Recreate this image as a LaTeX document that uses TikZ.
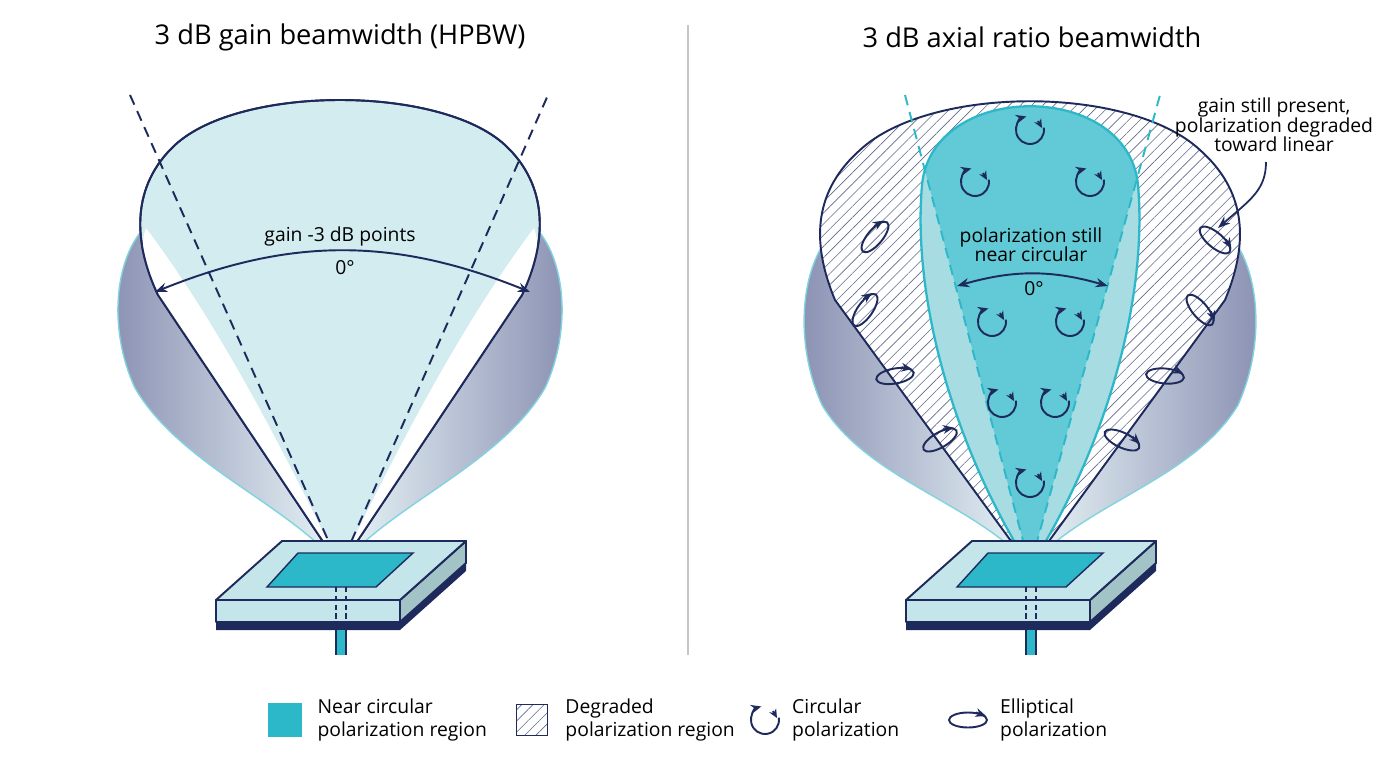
\documentclass[tikz,border=0pt]{standalone}
\usepackage{fontspec}
\setmainfont{Open Sans}
\usetikzlibrary{arrows.meta,patterns.meta,positioning}
\definecolor{navy}{HTML}{1E2A5C}
\definecolor{teal}{HTML}{2DB8C9}
\definecolor{paleblue}{HTML}{D2ECF0}
\definecolor{sideteal}{HTML}{A6DCE2}
\definecolor{ribbon}{HTML}{8A90B2}
\definecolor{slab}{HTML}{C4E5EA}
\definecolor{slabside}{HTML}{A3C4C6}
\tikzset{
  outline/.style={draw=navy,line width=1.1pt,line join=round},
  hatch/.style={pattern={Lines[angle=45,distance=4.5pt,line width=0.35pt]},pattern color=navy!70},
  beam/.style={dashed,line width=1.1pt,dash pattern=on 6pt off 4pt},
  span/.style={{Stealth[length=7pt]}-{Stealth[length=7pt]},navy,line width=1.1pt},
  lbl/.style={font=\fontsize{11}{13}\selectfont,text=black,align=center},
  title/.style={font=\fontsize{15.5}{18}\selectfont},
  legtext/.style={font=\fontsize{11}{13.5}\selectfont,align=left,anchor=west},
  circ/.pic={\draw[navy,line width=1.1pt,-{Stealth[length=6pt,width=5pt]}] (-10:14) arc (-10:255:14);
             \draw[navy,line width=1.1pt,-{Stealth[length=5pt,width=4.5pt]}] (8,-9) -- (12,-2);},
  ellip/.pic={\draw[navy,line width=1.1pt] (0,0) ellipse [x radius=19,y radius=7.5];
              \draw[navy,line width=1.1pt,-{Stealth[length=6pt,width=5pt]}] (8,-7.5) -- (18,-4);},
}
% one antenna patch, given its apex (feed point)
\newcommand\patch[1]{%
  \begin{scope}[shift={#1}]
    \fill[navy] (-124,55) -- (60,55) -- (126,-4) -- (126,4) -- (60,63) -- (-124,63) -- cycle;
    \draw[outline,fill=slabside] (60,33) -- (126,-26) -- (126,-4) -- (60,55) -- cycle;
    \draw[outline,fill=slab] (-124,33) rectangle (60,55);
    \draw[outline,fill=slab] (-58,-26) -- (126,-26) -- (60,33) -- (-124,33) -- cycle;
    \draw[navy,line width=0.8pt,fill=teal] (-42,-14) -- (73,-14) -- (36,20) -- (-73,20) -- cycle;
    \draw[navy,densely dashed,line width=0.8pt] (-4,20) -- (-4,55) (6,20) -- (6,55);
    \fill[teal] (-4,63) rectangle (6,88);
    \draw[navy,line width=0.6pt] (-4,63) -- (-4,88) (6,63) -- (6,88);
  \end{scope}}
\begin{document}
\begin{tikzpicture}[x=0.02cm,y=-0.02cm]
\useasboundingbox (0,0) rectangle (1376,768);
% titles and divider
\node[title] (tL) at (340,37) {3 dB gain beamwidth (HPBW)};
\node[title] (tR) at (1032,37) {3 dB axial ratio beamwidth};
\draw[gray!45,line width=0.8pt] (688,25) -- (688,655);

% ---- left: gain lobe
\coordinate (aL) at (340,567);
\shade[left color=ribbon,right color=paleblue!50] (146,226) .. controls (114,258) and (108,330) .. (135,388) .. controls (180,465) and (290,505) .. (aL) -- (158,295) -- cycle;
\shade[right color=ribbon,left color=paleblue!50] (534,226) .. controls (566,258) and (572,330) .. (545,388) .. controls (500,465) and (390,505) .. (aL) -- (522,295) -- cycle;
\draw[teal!60,line width=0.8pt] (146,226) .. controls (114,258) and (108,330) .. (135,388) .. controls (180,465) and (290,505) .. (aL)
      (534,226) .. controls (566,258) and (572,330) .. (545,388) .. controls (500,465) and (390,505) .. (aL);
\path[outline,fill=paleblue] (aL) -- (158,295) .. controls (132,240) and (132,185) .. (175,145) .. controls (240,85) and (440,85) .. (505,145) .. controls (548,185) and (548,240) .. (522,295) -- cycle;
\fill[white] (aL) -- (158,295) .. controls (142,260) and (140,245) .. (146,228) .. controls (200,300) and (260,400) .. (aL);
\fill[white] (aL) -- (522,295) .. controls (538,260) and (540,245) .. (534,228) .. controls (480,300) and (420,400) .. (aL);
\draw[outline] (aL) -- (158,295) .. controls (132,240) and (132,185) .. (175,145) .. controls (240,85) and (440,85) .. (505,145) .. controls (548,185) and (548,240) .. (522,295) -- cycle;
\coordinate (dL1) at (130,95);
\coordinate (dL2) at (548,95);
\draw[beam,navy] (dL1) -- (aL) -- (dL2);
\coordinate (pL1) at (155,292);
\coordinate (pL2) at (530,292);
\draw[span] (pL1) to[bend left=22] (pL2);
\node[lbl] (gainlbl) at (340,236) {gain -3 dB points};
\node[lbl] (zeroL) at (345,268) {0°};
\patch{(340,567)}

% ---- right: axial ratio lobe
\coordinate (aR) at (1030,567);
\shade[left color=ribbon,right color=paleblue!50] (826,240) .. controls (798,280) and (797,350) .. (822,405) .. controls (867,480) and (980,505) .. (aR) -- (835,300) -- cycle;
\shade[right color=ribbon,left color=paleblue!50] (1234,240) .. controls (1262,280) and (1263,350) .. (1238,405) .. controls (1193,480) and (1080,505) .. (aR) -- (1225,300) -- cycle;
\draw[teal!60,line width=0.8pt] (826,240) .. controls (798,280) and (797,350) .. (822,405) .. controls (867,480) and (980,505) .. (aR)
      (1234,240) .. controls (1262,280) and (1263,350) .. (1238,405) .. controls (1193,480) and (1080,505) .. (aR);
\path[fill=white] (aR) -- (835,300) .. controls (810,240) and (815,190) .. (860,150) .. controls (930,85) and (1130,85) .. (1200,150) .. controls (1245,190) and (1250,240) .. (1225,300) -- cycle;
\path[hatch] (aR) -- (835,300) .. controls (810,240) and (815,190) .. (860,150) .. controls (930,85) and (1130,85) .. (1200,150) .. controls (1245,190) and (1250,240) .. (1225,300) -- cycle;
\draw[outline] (aR) -- (835,300) .. controls (810,240) and (815,190) .. (860,150) .. controls (930,85) and (1130,85) .. (1200,150) .. controls (1245,190) and (1250,240) .. (1225,300) -- cycle;
\fill[sideteal] (aR) .. controls (955,450) and (912,300) .. (922,185) .. controls (932,80) and (1128,80) .. (1138,185) .. controls (1148,300) and (1105,450) .. (aR);
\begin{scope}
  \clip (aR) .. controls (955,450) and (912,300) .. (922,185) .. controls (932,80) and (1128,80) .. (1138,185) .. controls (1148,300) and (1105,450) .. (aR);
  \fill[teal!75] (aR) -- (905,95) -- (1030,80) -- (1160,95) -- cycle;
\end{scope}
\draw[teal,line width=1.3pt] (aR) .. controls (955,450) and (912,300) .. (922,185) .. controls (932,80) and (1128,80) .. (1138,185) .. controls (1148,300) and (1105,450) .. (aR);
\coordinate (dR1) at (905,95);
\coordinate (dR2) at (1160,95);
\draw[beam,teal] (dR1) -- (aR) -- (dR2);
\coordinate (pR1) at (957,286);
\coordinate (pR2) at (1108,286);
\draw[span] (pR1) to[bend left=16] (pR2);
\node[lbl] (arlbl) at (1031,245) {polarization still\\[-2pt]near circular};
\node[lbl] (zeroR) at (1034,289) {0°};
% circular markers
\foreach \x/\y in {1030/130,975/182,1090/182,992/322,1070/322,1002/403,1055/403,1030/483}
  \pic at (\x,\y) {circ};
% elliptical markers
\foreach \x/\y/\r in {875/237/50,865/310/55,895/376/10,940/440/30,1215/240/-40,1200/310/-50,1165/376/-5,1122/440/-25}
  \pic[rotate=\r] at (\x,\y) {ellip};
\node[lbl,anchor=north] (degr) at (1274,92) {gain still present,\\[-2pt]polarization degraded\\[-2pt]toward linear};
\coordinate (degrtip) at (1218,228);
\draw[navy,line width=1pt,-{Stealth[length=7pt]}] (1266,162) .. controls (1266,190) and (1250,200) .. (degrtip);
\patch{(1030,567)}

% ---- legend
\node[fill=teal,minimum size=0.68cm,inner sep=0pt] (kNear) at (285,720) {};
\node[legtext,right=0.18cm of kNear] (tNear) {Near circular\\polarization region};
\node[draw=navy,line width=0.9pt,hatch,minimum size=0.62cm,inner sep=0pt] (kDeg) at (532,720) {};
\node[legtext,right=0.22cm of kDeg] (tDeg) {Degraded\\polarization region};
\pic (kCirc) at (765,720) {circ};
\node[legtext] (tCirc) at (786,720) {Circular\\polarization};
\pic (kEll) at (968,720) {ellip};
\node[legtext] (tEll) at (994,720) {Elliptical\\polarization};
\end{tikzpicture}
\end{document}
